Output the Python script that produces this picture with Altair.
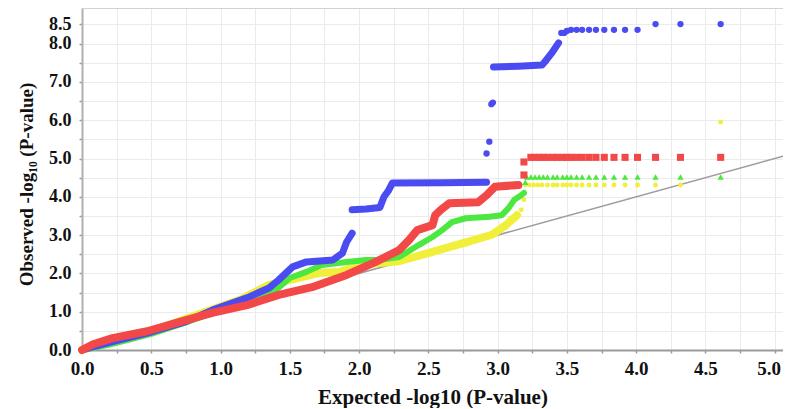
import altair as alt
import pandas as pd

# ---------------- data ----------------
# Blue series (circles)
blue_trail_x = [0, 0.2, 0.5, 0.75, 0.94, 1.19, 1.35, 1.42, 1.52, 1.62, 1.81, 1.88, 1.91, 1.95,
                1.95, 2.05, 2.15, 2.18, 2.21, 2.24, 2.6, 2.92,
                2.97, 3.15, 3.32, 3.34, 3.39, 3.44]
blue_trail_y = [0, 0.2, 0.47, 0.74, 1.04, 1.36, 1.62, 1.83, 2.17, 2.30, 2.35, 2.53, 2.82, 3.05,
                3.66, 3.68, 3.72, 4.0, 4.15, 4.36, 4.37, 4.38,
                7.39, 7.41, 7.44, 7.52, 7.75, 8.02]
blue_trail_seg = [0] * 14 + [1] * 8 + [2] * 6
blue_pts_x = [2.92, 2.94, 2.955, 2.966, 3.46, 3.48, 3.50, 3.53, 3.57, 3.61, 3.66, 3.71, 3.77,
              3.84, 3.92, 4.01, 4.14, 4.32, 4.61]
blue_pts_y = [5.13, 5.44, 6.42, 6.46, 8.28, 8.28, 8.33, 8.36, 8.36, 8.36, 8.36, 8.36, 8.36,
              8.36, 8.36, 8.36, 8.51, 8.51, 8.51]

# Red series (squares)
red_trail_x = [0, 0.08, 0.22, 0.47, 0.70, 0.94, 1.19, 1.42, 1.66, 1.91, 2.12, 2.29, 2.36, 2.42,
               2.53, 2.55, 2.59, 2.65, 2.86, 2.92, 2.98, 3.15]
red_trail_y = [0, 0.15, 0.31, 0.49, 0.73, 0.97, 1.17, 1.44, 1.64, 1.96, 2.30, 2.61, 2.87, 3.13,
               3.26, 3.52, 3.66, 3.83, 3.86, 4.04, 4.26, 4.31]
red_trail_seg = [0] * 22
red_pts_x = [3.19, 3.19, 3.24, 3.27, 3.30, 3.33, 3.36, 3.40, 3.43, 3.47, 3.50, 3.53, 3.57, 3.61,
             3.66, 3.71, 3.77, 3.84, 3.92, 4.01, 4.14, 4.32, 4.61]
red_pts_y = [4.57, 4.91, 5.03, 5.03, 5.03, 5.03, 5.03, 5.03, 5.03, 5.03, 5.03, 5.03, 5.03, 5.03,
             5.03, 5.03, 5.03, 5.03, 5.03, 5.03, 5.03, 5.03, 5.03]

# Green series (triangles)
green_trail_x = [0, 0.2, 0.5, 0.75, 0.94, 1.09, 1.28, 1.40, 1.50, 1.62, 1.73, 1.91, 2.05, 2.14,
                 2.29, 2.43, 2.53, 2.60, 2.67, 2.77, 2.94, 3.03, 3.08, 3.12, 3.17, 3.19]
green_trail_y = [0, 0.14, 0.42, 0.72, 0.97, 1.12, 1.40, 1.57, 1.88, 2.04, 2.22, 2.30, 2.35, 2.35,
                 2.43, 2.74, 2.95, 3.13, 3.34, 3.44, 3.48, 3.52, 3.71, 3.92, 4.04, 4.10]
green_trail_seg = [0] * 26
green_pts_x = [3.20, 3.21, 3.24, 3.27, 3.30, 3.33, 3.36, 3.40, 3.43, 3.47, 3.50, 3.53, 3.57,
               3.61, 3.66, 3.71, 3.77, 3.84, 3.92, 4.01, 4.14, 4.32, 4.61]
green_pts_y = [4.38, 4.52, 4.52, 4.52, 4.52, 4.52, 4.52, 4.52, 4.52, 4.52, 4.52, 4.52, 4.52,
               4.52, 4.52, 4.52, 4.52, 4.52, 4.52, 4.52, 4.52, 4.52, 4.52]

# Yellow series (small dots)
yellow_trail_x = [0, 0.3, 0.6, 0.94, 1.14, 1.35, 1.71, 1.86, 1.95, 2.09, 2.29, 2.53, 2.77,
                  2.96, 3.06, 3.14]
yellow_trail_y = [0, 0.3, 0.62, 1.06, 1.31, 1.70, 2.01, 2.04, 2.14, 2.25, 2.32, 2.56, 2.81,
                  3.01, 3.26, 3.52]
yellow_trail_seg = [0] * 16
yellow_pts_x = [3.17, 3.19, 3.20, 3.23, 3.26, 3.29, 3.32, 3.36, 3.40, 3.43, 3.47, 3.50, 3.53,
                3.57, 3.61, 3.66, 3.71, 3.77, 3.84, 3.92, 4.01, 4.14, 4.32, 4.61]
yellow_pts_y = [3.66, 3.92, 4.31, 4.31, 4.31, 4.31, 4.31, 4.31, 4.31, 4.31, 4.31, 4.31, 4.31,
                4.31, 4.31, 4.31, 4.31, 4.31, 4.31, 4.31, 4.31, 4.31, 4.31, 5.95]

# Reference diagonal (expected = observed)
diag_x = [0, 5.06]
diag_y = [0, 5.06]

x_ticks = [i * 0.25 for i in range(21)]
y_ticks = [i * 0.5 for i in range(18)]

# ---------------- chart ----------------
FONT = "Liberation Serif"
X_DOMAIN = [0, 5.06]
Y_DOMAIN = [0, 8.93]

xs = alt.Scale(domain=X_DOMAIN, nice=False, zero=False)
ys = alt.Scale(domain=Y_DOMAIN, nice=False, zero=False)

x_axis = alt.Axis(
    values=x_ticks,
    labelExpr="datum.value % 0.5 == 0 ? format(datum.value, '.1f') : ''",
    title="Expected -log10 (P-value)",
    grid=True, gridColor="#ebebeb", gridWidth=1,
    domainColor="#9a9a9a", domainWidth=2,
    tickColor="#9a9a9a", tickSize=3, tickWidth=1.5,
    labelFont=FONT, labelFontWeight="bold", labelFontSize=19, labelColor="#111111",
    labelPadding=6, labelFlush=False, labelOverlap=False,
    labelOffset={"condition": {"test": "datum.value == 5", "value": -6}, "value": 0},
    titleFont=FONT, titleFontWeight="bold", titleFontSize=21, titleColor="#111111",
    titlePadding=8,
)
y_axis = alt.Axis(
    values=y_ticks,
    labelExpr="(datum.value % 1 == 0 || datum.value == 8.5) ? format(datum.value, '.1f') : ''",
    title="Observed -log\u2081\u2080 (P-value)",
    grid=True, gridColor="#ebebeb", gridWidth=1,
    domainColor="#b0b0b0", domainWidth=2,
    tickColor="#9a9a9a", tickSize=3, tickWidth=1.5,
    labelFont=FONT, labelFontWeight="bold", labelFontSize=18, labelColor="#111111",
    labelPadding=8, labelFlush=False, labelOverlap=False,
    titleFont=FONT, titleFontWeight="bold", titleFontSize=19, titleColor="#111111",
    titlePadding=12, titleY=176,
)

def trail(xv, yv, seg, color, width):
    df = pd.DataFrame({"x": xv, "y": yv, "seg": seg})
    return alt.Chart(df).mark_line(color=color, strokeWidth=width, strokeCap="round",
                                   strokeJoin="round").encode(
        x=alt.X("x:Q", scale=xs, axis=x_axis),
        y=alt.Y("y:Q", scale=ys, axis=y_axis),
        detail="seg:N",
    )

def points(xv, yv, color, shape, size):
    df = pd.DataFrame({"x": xv, "y": yv})
    return alt.Chart(df).mark_point(color=color, shape=shape, size=size, filled=True,
                                    opacity=1).encode(
        x=alt.X("x:Q", scale=xs, axis=x_axis),
        y=alt.Y("y:Q", scale=ys, axis=y_axis),
    )

BLUE = "#4b4bf2"
RED = "#f24848"
GREEN = "#4de83f"
YELLOW = "#f0f03c"

diag = alt.Chart(pd.DataFrame({"x": diag_x, "y": diag_y})).mark_line(
    color="#9c9c9c", strokeWidth=1.6).encode(
    x=alt.X("x:Q", scale=xs, axis=x_axis),
    y=alt.Y("y:Q", scale=ys, axis=y_axis),
)

top_border = alt.Chart(pd.DataFrame({"a": [0]})).mark_rule(
    color="#d2d2d2", strokeWidth=2).encode(y=alt.value(0))

chart = alt.layer(
    top_border,
    diag,
    trail(yellow_trail_x, yellow_trail_y, yellow_trail_seg, YELLOW, 8),
    points(yellow_pts_x, yellow_pts_y, YELLOW, "circle", 24),
    trail(green_trail_x, green_trail_y, green_trail_seg, GREEN, 6),
    points(green_pts_x, green_pts_y, GREEN, "triangle-up", 40),
    trail(blue_trail_x, blue_trail_y, blue_trail_seg, BLUE, 7),
    points(blue_pts_x, blue_pts_y, BLUE, "circle", 40),
    trail(red_trail_x, red_trail_y, red_trail_seg, RED, 8),
    points(red_pts_x, red_pts_y, RED, "square", 50),
).properties(
    width=701,
    height=342,
    autosize=alt.AutoSizeParams(type="none"),
    padding={"left": 74, "top": 0, "right": 0, "bottom": 58},
).configure_view(stroke=None).configure(background="white")

chart.save("out.html", embed_options={"renderer": "svg", "actions": False})
